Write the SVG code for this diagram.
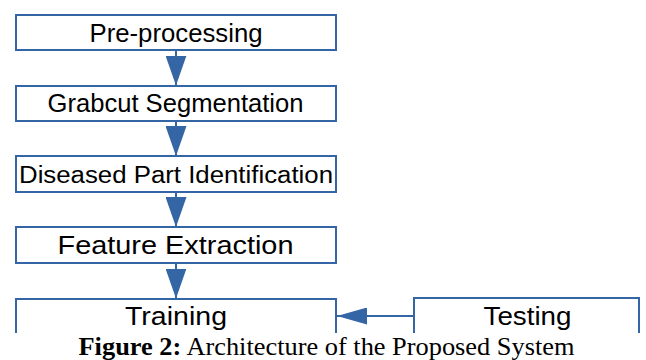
<svg xmlns="http://www.w3.org/2000/svg" width="646" height="360" viewBox="0 0 646 360">
<style>
.box{fill:#fff;stroke:#3465a4;stroke-width:2}
.lbl{font-family:"Liberation Sans",Arial,sans-serif;fill:#000;text-anchor:middle}
.conn{stroke:#3465a4;stroke-width:2;fill:none}
.cap{font-family:"Liberation Serif","Times New Roman",serif;font-size:25px;fill:#000;text-anchor:middle}
</style>
<defs>
<marker id="ah" markerUnits="userSpaceOnUse" markerWidth="30" markerHeight="21" refX="30" refY="10.5" orient="auto" viewBox="0 0 30 21">
<path d="M0,0 L30,10.5 L0,21 z" fill="#3465a4"/>
</marker>
<marker id="ah2" markerUnits="userSpaceOnUse" markerWidth="30" markerHeight="17" refX="30" refY="8.5" orient="auto" viewBox="0 0 30 17">
<path d="M0,0 L30,8.5 L0,17 z" fill="#3465a4"/>
</marker>
</defs>
<rect width="646" height="360" fill="#fff"/>
<g id="connectors">
<line class="conn" x1="176" y1="50" x2="176" y2="85.5" marker-end="url(#ah)"/>
<line class="conn" x1="176" y1="121" x2="176" y2="156" marker-end="url(#ah)"/>
<line class="conn" x1="176" y1="192" x2="176" y2="227" marker-end="url(#ah)"/>
<line class="conn" x1="176" y1="263" x2="176" y2="298.5" marker-end="url(#ah)"/>
<line class="conn" x1="414" y1="316" x2="337" y2="316" marker-end="url(#ah2)"/>
</g>
<g id="preprocessing">
<rect class="box" x="16" y="15" width="320" height="35"/>
<text class="lbl" x="176" y="42" font-size="25" textLength="173" lengthAdjust="spacingAndGlyphs">Pre-processing</text>
</g>
<g id="grabcut">
<rect class="box" x="16" y="86" width="320" height="35"/>
<text class="lbl" x="175.5" y="112" font-size="25" textLength="256" lengthAdjust="spacingAndGlyphs">Grabcut Segmentation</text>
</g>
<g id="diseased">
<rect class="box" x="16" y="156" width="320" height="36"/>
<text class="lbl" x="176" y="182.5" font-size="23.5" textLength="314" lengthAdjust="spacingAndGlyphs">Diseased Part Identification</text>
</g>
<g id="feature">
<rect class="box" x="16" y="227" width="320" height="36"/>
<text class="lbl" x="175.5" y="253.5" font-size="26" textLength="236" lengthAdjust="spacingAndGlyphs">Feature Extraction</text>
</g>
<g id="training">
<path class="box" d="M16,334 V299 H336 V334"/>
<text class="lbl" x="176" y="324.5" font-size="26" textLength="102" lengthAdjust="spacingAndGlyphs">Training</text>
</g>
<g id="testing">
<path class="box" d="M414,334 V298 H639 V334"/>
<text class="lbl" x="527.5" y="324.5" font-size="26" textLength="88" lengthAdjust="spacingAndGlyphs">Testing</text>
</g>
<rect x="0" y="333" width="646" height="27" fill="#fff"/>
<g id="caption" transform="translate(326.5,354.5) scale(1.055,1)">
<text class="cap" x="0" y="0"><tspan font-weight="bold">Figure 2:</tspan> Architecture of the Proposed System</text>
</g>
</svg>
